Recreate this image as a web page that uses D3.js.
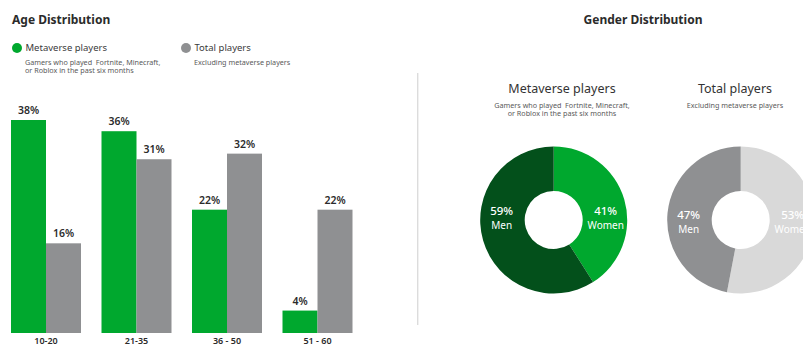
<!DOCTYPE html>
<html>
<head>
<meta charset="utf-8">
<script src="https://cdn.jsdelivr.net/npm/d3@7/dist/d3.min.js"></script>
<style>
  html, body { margin: 0; padding: 0; background: #fff; }
  svg { display: block; font-family: "Noto Sans", "Open Sans", sans-serif; }
  .note { white-space: pre; }
</style>
</head>
<body>
<svg id="chart" width="803" height="347"></svg>
<script>
// Age distribution (percent of players per age band)
const ageGroups = ["10-20", "21-35", "36 - 50", "51 - 60"];
const metaverseAge = [38, 36, 22, 4];
const totalAge = [16, 31, 32, 22];

// Gender distribution (percent)
const genderLabels = ["Women", "Men"];
const metaverseGender = [41, 59];
const totalGender = [53, 47];

const seriesNames = ["Metaverse players", "Total players"];
const seriesNotes = [
  ["Gamers who played  Fortnite, Minecraft,", "or Roblox in the past six months"],
  ["Excluding metaverse players"]
];

const GREEN = "#00a82e", DARK_GREEN = "#03501b", GRAY = "#8f9092", LIGHT_GRAY = "#d9d9d9";
const TEXT = "#2b2b2b", SUB = "#5a5a5a";

const svg = d3.select("#chart");

// ---------- Age Distribution ----------
svg.append("text").attr("x", 12).attr("y", 23.5)
  .attr("font-size", 12).attr("font-weight", 700).attr("fill", TEXT)
  .text("Age Distribution");

// legend
const legendX = [17, 186];
const legendColors = [GREEN, GRAY];
seriesNames.forEach((name, i) => {
  const g = svg.append("g").attr("transform", `translate(${legendX[i]},0)`);
  g.append("circle").attr("cx", 0).attr("cy", 48).attr("r", 5).attr("fill", legendColors[i]);
  g.append("text").attr("x", 8.5).attr("y", 50.5).attr("font-size", 9.5).attr("fill", "#3a3a3a").text(name);
  seriesNotes[i].forEach((line, j) => {
    g.append("text").attr("class", "note").attr("x", 8).attr("y", 64.5 + j * 8.4)
      .attr("font-size", 7.2).attr("fill", SUB).text(line);
  });
});

const x0 = d3.scaleBand().domain(ageGroups).range([11, 352.5]).paddingInner(0.2265).paddingOuter(0);
const x1 = d3.scaleBand().domain([0, 1]).range([0, x0.bandwidth()]);
const y = d3.scaleLinear().domain([0, 38]).range([333, 120]);

const groups = svg.append("g").selectAll("g").data(ageGroups).join("g")
  .attr("transform", d => `translate(${x0(d)},0)`);

const barData = i => [
  { s: 0, v: metaverseAge[i] },
  { s: 1, v: totalAge[i] }
];

groups.each(function (d, i) {
  const g = d3.select(this);
  const bars = barData(i);
  g.selectAll("rect").data(bars).join("rect")
    .attr("x", b => x1(b.s))
    .attr("width", x1.bandwidth())
    .attr("y", b => y(b.v))
    .attr("height", b => y(0) - y(b.v))
    .attr("fill", b => b.s === 0 ? GREEN : GRAY);
  g.selectAll("text.val").data(bars).join("text").attr("class", "val")
    .attr("x", b => x1(b.s) + x1.bandwidth() / 2)
    .attr("y", b => y(b.v) - 6)
    .attr("text-anchor", "middle")
    .attr("font-size", 10.5).attr("font-weight", 600).attr("fill", TEXT)
    .text(b => b.v + "%");
});

// category axis labels
const xAxis = d3.axisBottom(x0).tickSize(0).tickPadding(0);
const axisG = svg.append("g").attr("transform", "translate(0,338)").call(xAxis);
axisG.select(".domain").remove();
axisG.selectAll("text").attr("font-size", 9).attr("font-weight", 600).attr("fill", TEXT)
  .attr("font-family", "\"Noto Sans\", sans-serif");

// divider
svg.append("line").attr("x1", 417.7).attr("x2", 417.7).attr("y1", 73).attr("y2", 325)
  .attr("stroke", "#dcdcdc").attr("stroke-width", 1.4);

// ---------- Gender Distribution ----------
svg.append("text").attr("x", 643).attr("y", 23.5).attr("text-anchor", "middle")
  .attr("font-size", 12).attr("font-weight", 700).attr("fill", TEXT)
  .text("Gender Distribution");

const donuts = [
  { name: seriesNames[0], note: seriesNotes[0], values: metaverseGender, colors: [GREEN, DARK_GREEN], cx: 553.7, tx: 562, labelY: 211 },
  { name: seriesNames[1], note: seriesNotes[1], values: totalGender, colors: [LIGHT_GRAY, GRAY], cx: 740.7, tx: 735, labelY: 215 }
];

const pie = d3.pie().sort(null).value(d => d);
const arc = d3.arc().innerRadius(29).outerRadius(73.5);

donuts.forEach(dn => {
  svg.append("text").attr("x", dn.tx).attr("y", 93).attr("text-anchor", "middle")
    .attr("font-size", 12.5).attr("fill", "#333").text(dn.name);
  dn.note.forEach((line, j) => {
    svg.append("text").attr("class", "note").attr("x", dn.tx).attr("y", 107.5 + j * 8.4).attr("text-anchor", "middle")
      .attr("font-size", 7.2).attr("fill", SUB).text(line);
  });

  const g = svg.append("g").attr("transform", `translate(${dn.cx},220)`);
  const arcs = pie(dn.values);
  g.selectAll("path").data(arcs).join("path")
    .attr("d", arc).attr("fill", (d, i) => dn.colors[i]);

  // labels placed horizontally beside the hole
  arcs.forEach((a, i) => {
    const side = i === 0 ? 1 : -1;
    const lx = side * 52;
    const ly = dn.labelY - 220;
    g.append("text").attr("x", lx).attr("y", ly + 4).attr("text-anchor", "middle")
      .attr("font-size", 11.5).attr("font-weight", 500).attr("fill", "#fff")
      .text(dn.values[i] + "%");
    g.append("text").attr("x", lx).attr("y", ly + 17.5).attr("text-anchor", "middle")
      .attr("font-size", 10).attr("fill", "#fff")
      .text(genderLabels[i]);
  });
});
</script>
</body>
</html>
